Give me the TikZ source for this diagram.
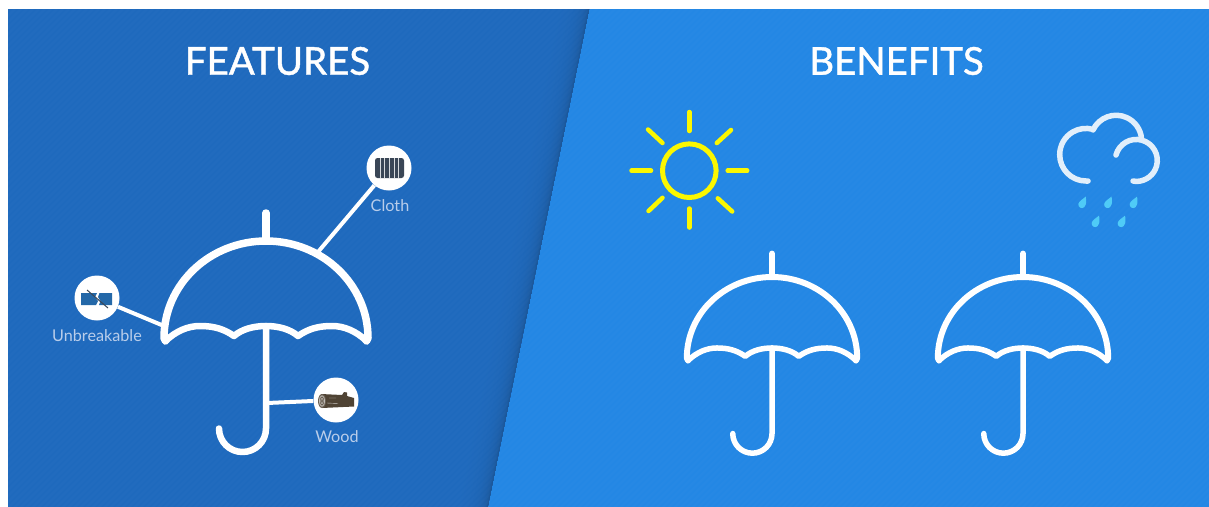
\documentclass[tikz,border=0pt]{standalone}
\usepackage{fontspec}
\setmainfont{Lato}
\newfontfamily\titlefont[FakeBold=1.2]{Lato}
\definecolor{leftblue}{HTML}{1E69BD}
\definecolor{rightblue}{HTML}{2387E4}
\definecolor{edgeshade}{HTML}{1A5596}
\definecolor{labelblue}{HTML}{B9CDEA}
\definecolor{sunyellow}{HTML}{FBF700}
\definecolor{cloudwhite}{HTML}{E2EFFB}
\definecolor{dropblue}{HTML}{4FCBF7}
\definecolor{clothdark}{HTML}{3A4656}
\definecolor{logbrown}{HTML}{4F4334}
\definecolor{slab}{HTML}{2468A8}
\tikzset{
  title/.style={text=white,font=\titlefont\fontsize{38.4}{38}\selectfont,anchor=center,inner sep=0},
  iconbg/.style={circle,fill=white,minimum size=45pt,inner sep=0},
  tag/.style={text=labelblue,font=\fontsize{16.2}{17}\selectfont,anchor=center,inner sep=0},
  link/.style={white,line width=4pt},
  ray/.style={sunyellow,line width=4.5pt,line cap=round},
  cloudline/.style={cloudwhite,line width=5.5pt,line cap=round},
  drop/.style={fill=dropblue,draw=none}
}
\newcommand{\umbrellaAt}[5]{% x, y, scale, canopy width, thin width
  \begin{scope}[shift={(#1,#2)},scale=#3,white,line cap=round,line join=round]
    \draw[line width=#4] (0,0) -- (0,28);
    \draw[line width=#4] (-100.5,-100) -- (-102,-97) arc[start angle=180,end angle=0,x radius=102,y radius=97] -- (100.5,-100);
    \draw[line width=#5] (-100.5,-100) .. controls (-90,-90) and (-78,-85) .. (-66,-85)
      .. controls (-52,-85) and (-42,-88) .. (-32,-95)
      .. controls (-24,-88) and (-12,-85) .. (0,-85)
      .. controls (12,-85) and (24,-88) .. (32,-95)
      .. controls (42,-88) and (52,-85) .. (66,-85)
      .. controls (78,-85) and (90,-90) .. (100.5,-100);
    \draw[line width=#5] (0,-85) -- (0,-187.5) arc[start angle=0,end angle=-180,radius=23.5];
  \end{scope}}
\newcommand{\dropAt}[2]{\fill[drop,shift={(#1,#2)},scale=1.2] (2.6,5.4) .. controls (2.2,2.6) and (4.2,0) .. (1.2,-3.6)
   .. controls (-1,-5.2) and (-4,-3.6) .. (-3.6,-0.8) .. controls (-3.3,1.6) and (0.4,3.4) .. (2.6,5.4) -- cycle;}
\begin{document}
\begin{tikzpicture}[x=1pt,y=1pt]
\useasboundingbox (0,0) rectangle (1209,-506);
\fill[white] (0,0) rectangle (1209,-506);
\begin{scope}
\clip (8,-9) rectangle (1209,-510);
\fill[rightblue] (8,-9) rectangle (1209,-510);
\fill[leftblue] (8,-9) -- (589,-9) -- (487,-510) -- (8,-510) -- cycle;
% shadow along the slanted edge: opaque bands, outermost first
\foreach \i in {30,29,...,1}{
  \pgfmathsetmacro{\w}{\i*\i/26}
  \pgfmathtruncatemacro{\m}{100-(31-\i)*(31-\i)/9.3}
  \fill[leftblue!\m!edgeshade] (589-\w,-9) -- (589,-9) -- (487,-510) -- (487-\w,-510) -- cycle;
}
% fine diagonal texture
\foreach \k in {-492,-486,...,1210}
  \draw[white,opacity=0.016,line width=2.5pt] (\k,-510) -- (\k+501,-9);
\end{scope}
\node[title] (featuresT) at (277.5,-61) {FEATURES};
\node[title] (benefitsT) at (896.5,-61) {BENEFITS};
% umbrellas
\umbrellaAt{266}{-241}{1}{7.5pt}{6.5pt}
\umbrellaAt{772}{-277}{0.835}{6pt}{5.5pt}
\umbrellaAt{1023}{-277}{0.835}{6pt}{5.5pt}
% callouts
\coordinate (clothjoin) at (318,-252);
\coordinate (breakjoin) at (164,-326);
\coordinate (woodjoin) at (267,-403);
\node[iconbg] (clothN) at (389,-168) {};
\node[iconbg] (breakN) at (97,-298) {};
\node[iconbg] (woodN) at (336,-400) {};
\draw[link] (clothjoin) -- (clothN);
\draw[link] (breakjoin) -- (breakN);
\draw[link] (woodjoin) -- (woodN);
\node[tag] (clothL) at (390,-205.5) {Cloth};
\node[tag] (breakL) at (97,-336) {Unbreakable};
\node[tag] (woodL) at (337,-437) {Wood};
% cloth icon
\fill[clothdark,rounded corners=2.5pt] (375,-158) rectangle (404,-178);
\foreach \x in {380,384.7,389.4,394.1,398.8}
  \draw[white!80!clothdark,line width=0.8pt] (\x,-158) -- (\x,-178);
% unbreakable icon
\fill[slab] (81,-293) -- (97,-293) -- (95,-297) -- (98,-301) -- (96,-305) -- (81,-305) -- cycle;
\fill[slab] (99.5,-293) -- (112,-293) -- (112,-305) -- (99,-305) -- (100.5,-301) -- (98,-297) -- cycle;
\draw[clothdark,line width=1pt] (87,-290) -- (108,-308);
% log icon
\fill[logbrown] (321,-394) -- (342,-395) -- (344,-392) -- (347,-392.5) -- (347,-396) -- (354,-398) -- (354,-406.5) -- (322,-408) -- cycle;
\fill[logbrown!85!white] (322,-401) ellipse[x radius=4,y radius=7];
\draw[white!75!logbrown,line width=0.6pt] (322,-401) ellipse[x radius=2.7,y radius=5.3];
\draw[white!75!logbrown,line width=0.5pt] (322,-401) ellipse[x radius=1.2,y radius=2.6];
\draw[white!70!logbrown,line width=0.4pt] (327,-403) -- (338,-403.5) (329,-398) -- (336,-398);
% sun
\draw[sunyellow,line width=5pt] (689.3,-170.7) circle[radius=26.8];
\draw[ray] (689.3,-112) -- (689.3,-131);
\draw[ray] (689.3,-208.5) -- (689.3,-227.5);
\draw[ray] (631.5,-170.7) -- (651,-170.7);
\draw[ray] (727.7,-170.7) -- (747.2,-170.7);
\draw[ray] (648,-129.5) -- (662.5,-143);
\draw[ray] (731,-130) -- (716.8,-143);
\draw[ray] (662.5,-197.8) -- (648.5,-211);
\draw[ray] (717.8,-198.3) -- (732.2,-211.5);
% cloud
\draw[cloudline] (1088,-181) -- (1086,-181) arc[start angle=-90,end angle=-285,radius=26.3];
\draw[cloudline] (1093,-130) arc[start angle=155,end angle=5,radius=25.5];
\draw[cloudline] (1116,-155) arc[start angle=165,end angle=-90,radius=21] -- (1133,-181);
% rain
\dropAt{1082.7}{-203}
\dropAt{1108.5}{-203}
\dropAt{1134}{-203}
\dropAt{1096}{-222}
\dropAt{1122}{-222}
\end{tikzpicture}
\end{document}
